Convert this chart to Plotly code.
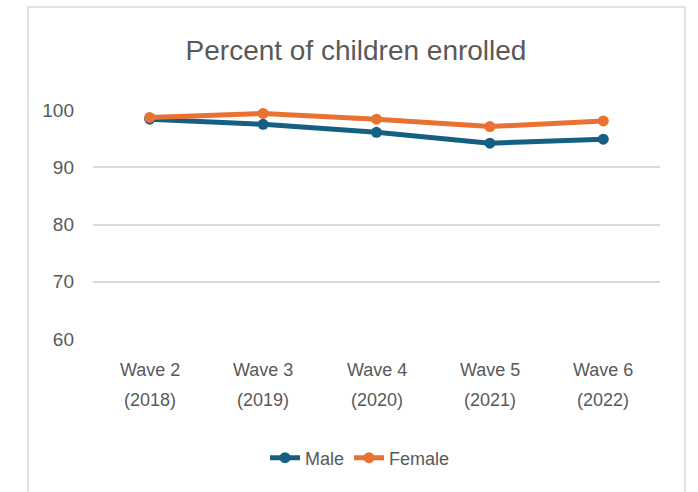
import plotly.graph_objects as go

wave_labels = ["Wave 2", "Wave 3", "Wave 4", "Wave 5", "Wave 6"]
year_labels = ["(2018)", "(2019)", "(2020)", "(2021)", "(2022)"]
male = [98.4, 97.5, 96.1, 94.2, 94.9]
female = [98.7, 99.4, 98.4, 97.1, 98.1]
y_ticks = [60, 70, 80, 90, 100]

categories = [w + " " + y for w, y in zip(wave_labels, year_labels)]

W, H = 698, 492
L, R, T, B = 93, 660, 110, 339
pw, ph = R - L, B - T

FONT = "Liberation Sans, Arial, sans-serif"
TXT = "#595959"

def px_x(x):
    return (x - L) / pw

def px_y(y):
    return (B - y) / ph

fig = go.Figure()
fig.add_trace(go.Scatter(x=categories, y=male, name="Male", mode="lines+markers",
                         line=dict(color="#156082", width=5),
                         marker=dict(size=11, color="#156082"), cliponaxis=False))
fig.add_trace(go.Scatter(x=categories, y=female, name="Female", mode="lines+markers",
                         line=dict(color="#E97132", width=5),
                         marker=dict(size=11, color="#E97132"), cliponaxis=False))

annotations = []
for cat, w, yr in zip(categories, wave_labels, year_labels):
    annotations.append(dict(x=cat, xref="x", y=px_y(370), yref="paper", text=w,
                            showarrow=False, xanchor="center", yanchor="middle",
                            font=dict(size=18, color=TXT, family=FONT)))
    annotations.append(dict(x=cat, xref="x", y=px_y(400), yref="paper", text=yr,
                            showarrow=False, xanchor="center", yanchor="middle",
                            font=dict(size=18, color=TXT, family=FONT)))

fig.update_layout(
    width=W, height=H,
    margin=dict(l=L, r=W - R, t=T, b=H - B, pad=0),
    paper_bgcolor="white", plot_bgcolor="white",
    font=dict(family=FONT, color=TXT, size=18),
    title=dict(text="Percent of children enrolled", x=356 / W, xanchor="center",
               y=1 - 50 / H, yanchor="middle", yref="container",
               font=dict(size=28, color=TXT, family=FONT)),
    xaxis=dict(range=[-0.5, len(categories) - 0.5], showgrid=False, showline=False,
               zeroline=False, ticks="", showticklabels=False),
    yaxis=dict(range=[60, 100], tickvals=y_ticks, showgrid=True, gridcolor="#D9D9D9",
               gridwidth=1.5, zeroline=False, showline=False, ticks="",
               ticklabelstandoff=18, tickfont=dict(size=19, color=TXT)),
    legend=dict(orientation="h", x=px_x(360), xanchor="center", y=px_y(458), yanchor="middle",
                font=dict(size=18, color=TXT), itemwidth=30, tracegroupgap=0),
    showlegend=True,
    annotations=annotations,
    shapes=[dict(type="rect", xref="paper", yref="paper",
                 x0=px_x(28), x1=px_x(685), y0=px_y(510), y1=px_y(7),
                 line=dict(color="#D9D9D9", width=1.5), fillcolor="rgba(0,0,0,0)", layer="below")],
)

fig.write_html("out.html")
